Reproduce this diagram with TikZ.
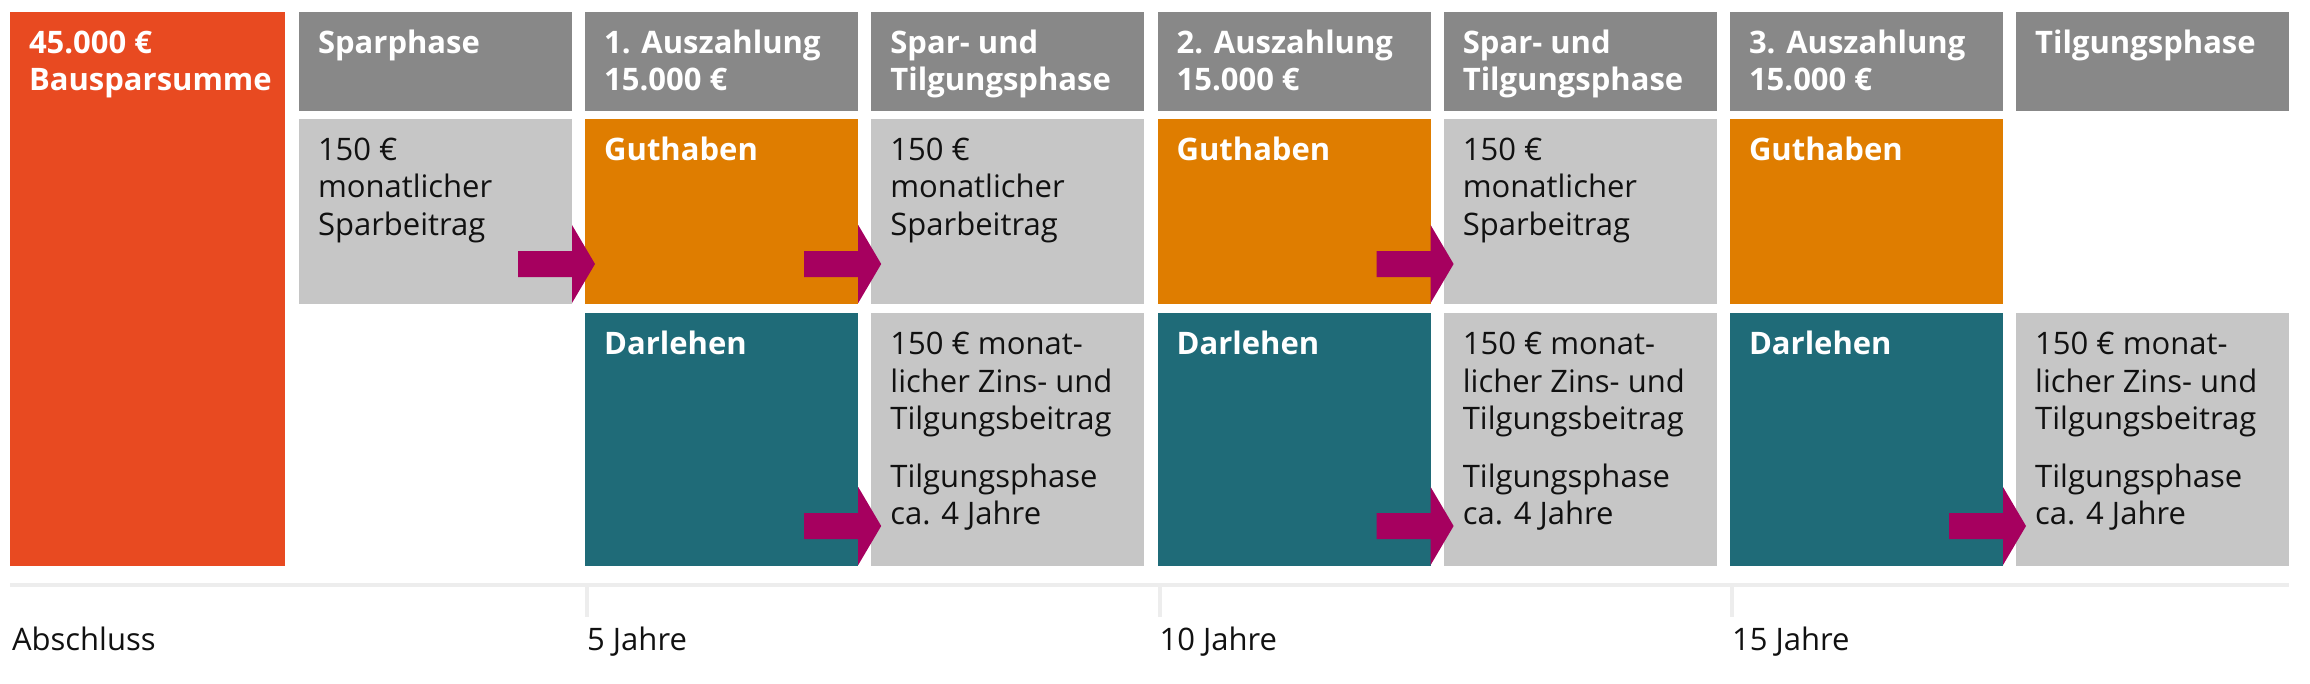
\documentclass[tikz,border=0pt]{standalone}
\usepackage{fontspec}
\setmainfont{Open Sans}
\usetikzlibrary{calc}
\definecolor{cRed}{HTML}{E84A21}
\definecolor{cHead}{HTML}{888888}
\definecolor{cLight}{HTML}{C6C6C6}
\definecolor{cOrange}{HTML}{DF7D00}
\definecolor{cTeal}{HTML}{1F6B78}
\definecolor{cArrow}{HTML}{A6005F}
\definecolor{cLine}{HTML}{EDEDED}
\definecolor{cText}{HTML}{111111}
\begin{document}
\begin{tikzpicture}[x=0.5pt,y=-0.5pt,
  panel/.style={rectangle, anchor=north west, inner sep=0pt, outer sep=0pt, draw=none, minimum width=136.5pt},
  headbox/.style={panel, fill=cHead, minimum height=49.35pt},
  rowone/.style={panel, minimum height=92.65pt},
  rowtwo/.style={panel, minimum height=126.5pt},
  lblbase/.style={anchor=north west, inner sep=0pt, outer sep=0pt, align=left, font=\fontsize{15.5pt}{18.75pt}\selectfont},
  lblw/.style={lblbase, text=white, font=\fontsize{15.5pt}{18.75pt}\selectfont\bfseries},
  lbld/.style={lblbase, text=cText},
  axislbl/.style={anchor=base west, inner sep=0pt, outer sep=0pt, text=cText, font=\fontsize{15.5pt}{18.75pt}\selectfont},
  arrowfill/.style={fill=cArrow, draw=none},
  axisline/.style={draw=cLine, line width=2pt},
]
\useasboundingbox (0,0) rectangle (2310,684);
\fill[white] (0,0) rectangle (2310,684);

% Bausparsumme
\node[panel, fill=cRed, minimum width=137.5pt, minimum height=277pt] (rsum) at (10,12) {};
\node[lblw] (lrsum) at ($(rsum.north west)+(19,15.5)$) {\rule{0pt}{13pt}45.000 €\\Bausparsumme};

% headers
\node[headbox] (h1) at (299,12) {};
\node[headbox] (h2) at (585.2,12) {};
\node[headbox] (h3) at (871.4,12) {};
\node[headbox] (h4) at (1157.6,12) {};
\node[headbox] (h5) at (1443.8,12) {};
\node[headbox] (h6) at (1730,12) {};
\node[headbox] (h7) at (2016.2,12) {};
\node[lblw] (lh1) at ($(h1.north west)+(19,15.5)$) {\rule{0pt}{13pt}Sparphase};
\node[lblw] (lh2) at ($(h2.north west)+(19,15.5)$) {\rule{0pt}{13pt}1. Auszahlung\\15.000 €};
\node[lblw] (lh3) at ($(h3.north west)+(19,15.5)$) {\rule{0pt}{13pt}Spar- und\\Tilgungsphase};
\node[lblw] (lh4) at ($(h4.north west)+(19,15.5)$) {\rule{0pt}{13pt}2. Auszahlung\\15.000 €};
\node[lblw] (lh5) at ($(h5.north west)+(19,15.5)$) {\rule{0pt}{13pt}Spar- und\\Tilgungsphase};
\node[lblw] (lh6) at ($(h6.north west)+(19,15.5)$) {\rule{0pt}{13pt}3. Auszahlung\\15.000 €};
\node[lblw] (lh7) at ($(h7.north west)+(19,15.5)$) {\rule{0pt}{13pt}Tilgungsphase};

% row one
\node[rowone, fill=cLight] (s1) at (299,118.7) {};
\node[rowone, fill=cOrange] (g2) at (585.2,118.7) {};
\node[rowone, fill=cLight] (s3) at (871.4,118.7) {};
\node[rowone, fill=cOrange] (g4) at (1157.6,118.7) {};
\node[rowone, fill=cLight] (s5) at (1443.8,118.7) {};
\node[rowone, fill=cOrange] (g6) at (1730,118.7) {};
\node[lbld] (ls1) at ($(s1.north west)+(19,15.5)$) {\rule{0pt}{13pt}150 €\\monatlicher\\Sparbeitrag};
\node[lblw] (lg2) at ($(g2.north west)+(19,15.5)$) {\rule{0pt}{13pt}Guthaben};
\node[lbld] (ls3) at ($(s3.north west)+(19,15.5)$) {\rule{0pt}{13pt}150 €\\monatlicher\\Sparbeitrag};
\node[lblw] (lg4) at ($(g4.north west)+(19,15.5)$) {\rule{0pt}{13pt}Guthaben};
\node[lbld] (ls5) at ($(s5.north west)+(19,15.5)$) {\rule{0pt}{13pt}150 €\\monatlicher\\Sparbeitrag};
\node[lblw] (lg6) at ($(g6.north west)+(19,15.5)$) {\rule{0pt}{13pt}Guthaben};

% row two
\node[rowtwo, fill=cTeal] (d2) at (585.2,313) {};
\node[rowtwo, fill=cLight] (t3) at (871.4,313) {};
\node[rowtwo, fill=cTeal] (d4) at (1157.6,313) {};
\node[rowtwo, fill=cLight] (t5) at (1443.8,313) {};
\node[rowtwo, fill=cTeal] (d6) at (1730,313) {};
\node[rowtwo, fill=cLight] (t7) at (2016.2,313) {};
\node[lblw] (ld2) at ($(d2.north west)+(19,15.5)$) {\rule{0pt}{13pt}Darlehen};
\node[lbld] (lt3) at ($(t3.north west)+(19,15.5)$) {\rule{0pt}{13pt}150 € monat-\\licher Zins- und\\Tilgungsbeitrag\\[10pt]Tilgungsphase\\ca. 4 Jahre};
\node[lblw] (ld4) at ($(d4.north west)+(19,15.5)$) {\rule{0pt}{13pt}Darlehen};
\node[lbld] (lt5) at ($(t5.north west)+(19,15.5)$) {\rule{0pt}{13pt}150 € monat-\\licher Zins- und\\Tilgungsbeitrag\\[10pt]Tilgungsphase\\ca. 4 Jahre};
\node[lblw] (ld6) at ($(d6.north west)+(19,15.5)$) {\rule{0pt}{13pt}Darlehen};
\node[lbld] (lt7) at ($(t7.north west)+(19,15.5)$) {\rule{0pt}{13pt}150 € monat-\\licher Zins- und\\Tilgungsbeitrag\\[10pt]Tilgungsphase\\ca. 4 Jahre};

% arrows
\foreach \b in {s1,g2,g4,d2,d4,d6}{
  \fill[arrowfill] ($(\b.south east)+(-54,-53)$) -- ++(54,0) -- ++(0,-26) -- ++(23,39) -- ++(-23,39) -- ++(0,-26) -- ++(-54,0) -- cycle;
}

% time axis
\coordinate (ax0) at ($(rsum.south west)+(0,19)$);
\coordinate (ax1) at ($(t7.south east)+(0,19)$);
\draw[axisline] (ax0) -- (ax1);
\foreach \b in {d2,d4,d6}{
  \draw[axisline] ($(\b.south west)+(2,18)$) -- ++(0,33);
}
\node[axislbl] (a0) at ($(rsum.south west)+(2,84)$) {Abschluss};
\node[axislbl] (a1) at ($(d2.south west)+(2,84)$) {5 Jahre};
\node[axislbl] (a2) at ($(d4.south west)+(2,84)$) {10 Jahre};
\node[axislbl] (a3) at ($(d6.south west)+(2,84)$) {15 Jahre};
\end{tikzpicture}
\end{document}
